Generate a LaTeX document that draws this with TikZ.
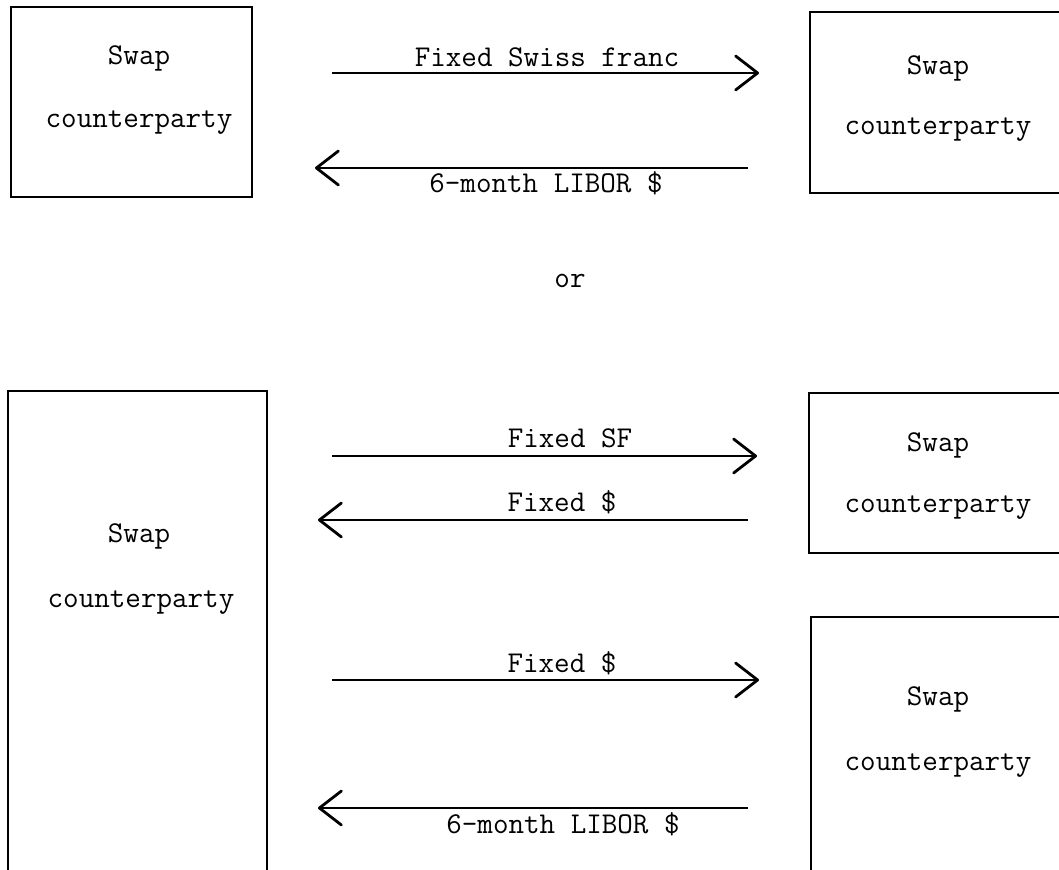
\documentclass[tikz,border=0pt]{standalone}
\usetikzlibrary{arrows.meta}
\begin{document}
\begin{tikzpicture}[x=0.5pt,y=-0.5pt,
  frame/.style={draw=black,line width=1.2pt,inner sep=0pt},
  lbl/.style={font=\fontsize{15.1}{18}\selectfont\ttfamily,anchor=base,inner sep=0pt},
  flow/.style={line width=0.7pt,-{Straight Barb[length=11pt,width=17pt,line width=1.4pt,line join=round,line cap=round]}}]
\useasboundingbox (0,0) rectangle (1059,870);
\clip (0,0) rectangle (1059,870);
% top section boxes
\draw[frame] (11,7) rectangle (252,197) node[midway,draw=none] (boxA) {};
\draw[frame] (810,12) rectangle (1090,193) node[midway,draw=none] (boxB) {};
\node[lbl] (a1) at (139,65) {Swap};
\node[lbl] (a2) at (139,128) {counterparty};
\node[lbl] (b1) at (938,75) {Swap};
\node[lbl] (b2) at (938,135) {counterparty};
% top arrows
\coordinate (t1s) at (332,73);  \coordinate (t1e) at (759,73);
\coordinate (t2s) at (748,168); \coordinate (t2e) at (315,168);
\draw[flow] (t1s) -- (t1e);
\draw[flow] (t2s) -- (t2e);
\node[lbl] (l1) at (547,67) {Fixed Swiss franc};
\node[lbl] (l2) at (546,193) {6-month LIBOR \$};
% or
\node[lbl] (or) at (570,288) {or};
% bottom section boxes
\draw[frame] (8,391) rectangle (267,900) node[midway,draw=none] (boxC) {};
\draw[frame] (809,393) rectangle (1090,553) node[midway,draw=none] (boxD) {};
\draw[frame] (811,617) rectangle (1090,900) node[midway,draw=none] (boxE) {};
\node[lbl] (c1) at (139,543) {Swap};
\node[lbl] (c2) at (141,608) {counterparty};
\node[lbl] (d1) at (938,452) {Swap};
\node[lbl] (d2) at (938,513) {counterparty};
\node[lbl] (e1) at (938,705) {Swap};
\node[lbl] (e2) at (938,770) {counterparty};
% bottom arrows
\coordinate (u1s) at (332,456); \coordinate (u1e) at (757,456);
\coordinate (u2s) at (748,520); \coordinate (u2e) at (318,520);
\coordinate (u3s) at (332,680); \coordinate (u3e) at (759,680);
\coordinate (u4s) at (748,808); \coordinate (u4e) at (318,808);
\draw[flow] (u1s) -- (u1e);
\draw[flow] (u2s) -- (u2e);
\draw[flow] (u3s) -- (u3e);
\draw[flow] (u4s) -- (u4e);
\node[lbl] (m1) at (570,448) {Fixed SF};
\node[lbl] (m2) at (562,512) {Fixed \$};
\node[lbl] (m3) at (562,672) {Fixed \$};
\node[lbl] (m4) at (563,833) {6-month LIBOR \$};
\end{tikzpicture}
\end{document}
